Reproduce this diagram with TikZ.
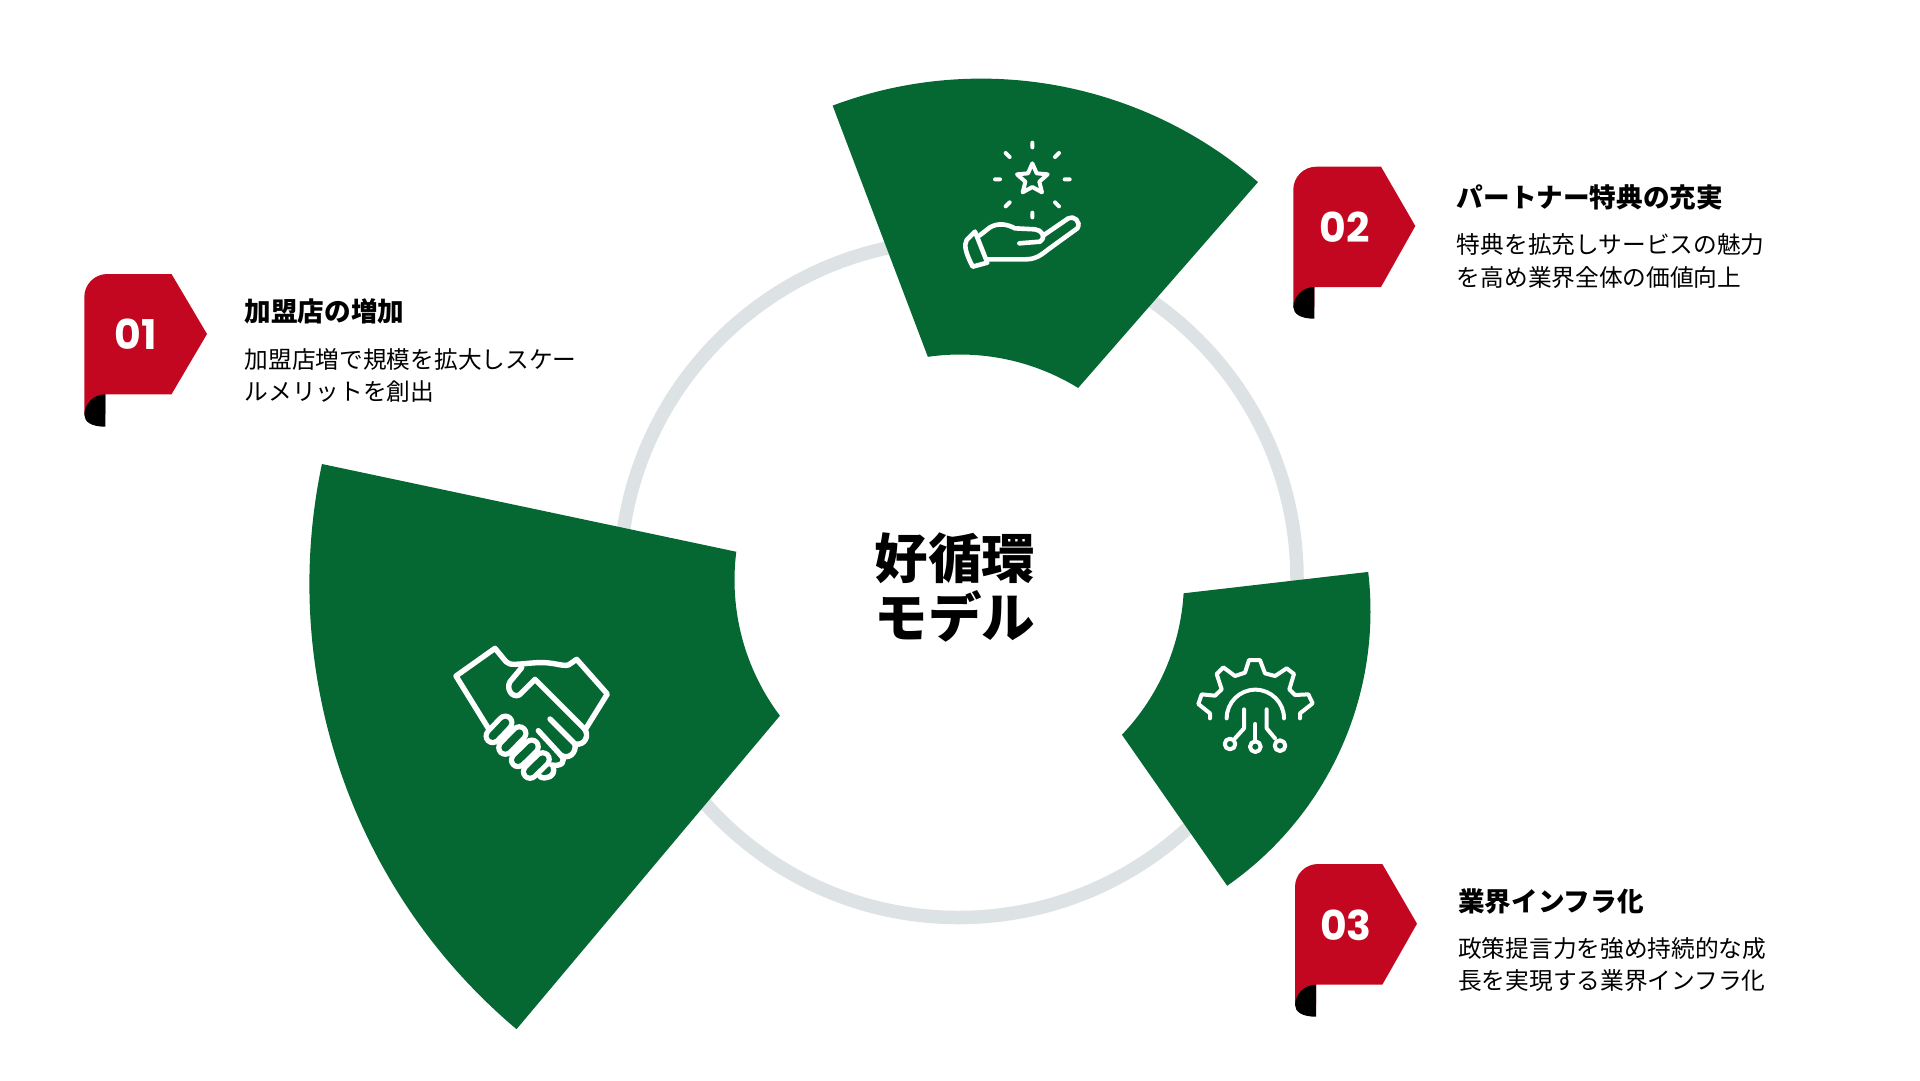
\documentclass[tikz,border=0pt]{standalone}
\usepackage{fontspec}
\usetikzlibrary{calc}
\newfontfamily\jp{Noto Sans CJK JP}
\newfontfamily\nump{Poppins}
\definecolor{leaf}{HTML}{056833}
\definecolor{flagred}{HTML}{C40720}
\definecolor{ringgrey}{HTML}{DDE3E5}
\tikzset{
  sector/.style={fill=leaf,draw=none},
  ringline/.style={draw=ringgrey,line width=13.5},
  flagbody/.style={fill=flagred,draw=none},
  flagcurl/.style={fill=black,draw=none},
  numlabel/.style={anchor=center,inner sep=0,text=white,font={\nump\bfseries\fontsize{41}{41}\selectfont}},
  titlelabel/.style={anchor=base west,inner sep=0,text=black,font={\jp\bfseries\fontsize{26.6}{26.6}\selectfont}},
  bodylabel/.style={anchor=base west,inner sep=0,text=black,font={\jp\fontsize{23.7}{23.7}\selectfont}},
  centerlabel/.style={anchor=base,inner sep=0,text=black,font={\jp\bfseries\fontsize{53.5}{53.5}\selectfont}},
  iconbold/.style={draw=white,line width=5.4,line cap=round,line join=round},
  iconline/.style={draw=white,line width=4.6,line cap=round,line join=round},
  iconthin/.style={draw=white,line width=4,line cap=round,line join=round},
  fingerouter/.style={draw=white,line width=18.4,line cap=round},
  fingerinner/.style={draw=leaf,line width=8,line cap=round},
  iconscope/.style={x=0.33333pt,y=-0.33333pt},
}
\newcommand{\flagshape}[8]{% left top rightx tipx tipy bottom stubx curlbottom
  \fill[flagbody] (#1,#2+23) arc[start angle=180,end angle=270,radius=23] -- (#3,#2) -- (#4,#5) -- (#3,#6) -- (#7,#6) -- (#7,#6+20) -- (#1,#6+20) -- cycle;
  \fill[flagcurl] (#7,#6) arc[start angle=270,end angle=180,radius=21] -- (#1,#8-12) .. controls (#1,#8-5) and (#1+7,#8) .. (#7,#8) -- cycle;
}
\newcommand{\fingerpair}[4]{%
  \draw[fingerouter] (#1,#2) -- (#3,#4);
  \draw[fingerinner] (#1,#2) -- (#3,#4);
}
\begin{document}
\begin{tikzpicture}[x=1pt,y=-1pt]
\useasboundingbox (0,0) rectangle (1920,1080);
\fill[white] (0,0) rectangle (1920,1080);
\coordinate (hub) at (958.5,579);
\coordinate (innerhub) at (960,580);
\coordinate (big) at (891.4,584);
\coordinate (top) at (981.1,500.6);
\coordinate (low) at (1035.5,611);
\draw[ringline] (hub) circle[radius=338.5];
\fill[sector] ($(big)+(130.1:582)$) arc[start angle=130.1,end angle=191.9,radius=582] -- ($(innerhub)+(187.2:225.5)$) arc[start angle=187.2,end angle=143,radius=225.5] -- cycle;
\fill[sector] ($(top)+(249.4:422)$) arc[start angle=249.4,end angle=311,radius=422] -- ($(innerhub)+(301.6:225.5)$) arc[start angle=301.6,end angle=261.8,radius=225.5] -- cycle;
\fill[sector] ($(low)+(-6.7:335)$) arc[start angle=-6.7,end angle=55.1,radius=335] -- ($(innerhub)+(43.7:224)$) arc[start angle=43.7,end angle=3.4,radius=224] -- cycle;

\flagshape{84.3}{274}{171.5}{207}{334}{394.3}{105.3}{426.7}
\flagshape{1293.3}{166.7}{1381}{1415.3}{226}{287}{1314.3}{318.7}
\flagshape{1295}{864}{1382.3}{1417}{923.7}{984.7}{1316}{1016.7}

\node[numlabel] (n1) at (135.5,334.7) {01};
\node[numlabel] (n2) at (1344.5,227) {02};
\node[numlabel] (n3) at (1346,925) {03};

\node[titlelabel] (t1) at (244.5,321.7) {加盟店の増加};
\node[bodylabel] (b1a) at (244.5,368) {加盟店増で規模を拡大しスケー};
\node[bodylabel] (b1b) at (244.5,400) {ルメリットを創出};
\node[titlelabel] (t2) at (1456.7,207.8) {パートナー特典の充実};
\node[bodylabel] (b2a) at (1456.7,253.2) {特典を拡充しサービスの魅力};
\node[bodylabel] (b2b) at (1456.7,286.2) {を高め業界全体の価値向上};
\node[titlelabel] (t3) at (1458,911.5) {業界インフラ化};
\node[bodylabel] (b3a) at (1458,957.2) {政策提言力を強め持続的な成};
\node[bodylabel] (b3b) at (1458,989.9) {長を実現する業界インフラ化};
\node[centerlabel] (c1) at (955,578) {好循環};
\node[centerlabel] (c2) at (955,637.5) {モデル};

% handshake icon
\begin{scope}[shift={(430,620)},iconscope]
\draw[iconbold] (175,325) -- (78,168) -- (195,85) -- (228,125) .. controls (240,138) and (260,132) .. (320,128) .. controls (370,125) and (395,140) .. (415,135) -- (440,118) -- (532,222) -- (468,325);
\draw[iconbold] (275,143) -- (240,185) .. controls (228,205) and (245,235) .. (268,225) -- (315,178) -- (462,325) .. controls (480,345) and (465,378) .. (435,372) -- (360,297);
\draw[iconbold] (435,372) .. controls (440,400) and (415,420) .. (392,405) -- (325,332);
\draw[iconbold] (392,405) .. controls (410,425) and (395,440) .. (365,435);
\draw[iconbold] (370,442) .. controls (378,470) and (345,480) .. (330,470);
\fingerpair{300}{455}{338}{418}
\fingerpair{264}{420}{305}{380}
\fingerpair{226}{383}{268}{340}
\fingerpair{188}{348}{226}{308}
\end{scope}

% star and hand icon
\begin{scope}[shift={(940,120)},iconscope]
\draw[iconthin] (277,68) -- (277,82) (197,99) -- (209,111) (357,99) -- (345,111) (165,178) -- (180,178) (374,178) -- (389,178) (197,259) -- (209,247) (357,259) -- (345,247) (277,278) -- (277,292);
\draw[iconthin] (277,130) -- (290,160) -- (323,163) -- (298,185) -- (306,217) -- (277,201) -- (248,217) -- (256,185) -- (231,163) -- (264,160) -- cycle;
\draw[iconline] (105,335) -- (80,360) .. controls (72,375) and (75,395) .. (98,440) -- (142,428) -- cycle;
\draw[iconline] (118,347) -- (150,322) .. controls (175,308) and (200,312) .. (225,325) -- (285,328) .. controls (305,330) and (320,350) .. (300,365) -- (238,370);
\draw[iconline] (312,345) -- (385,295) .. controls (400,285) and (425,305) .. (412,325) -- (325,388) .. controls (300,408) and (285,418) .. (255,418) -- (145,418);
\end{scope}

% gear icon
\begin{scope}[shift={(1180,650)},iconscope]
\draw[iconthin] (90,205) -- (90,190) -- (55,162) -- (65,133) -- (105,137) -- (125,118) -- (110,72) -- (130,52) -- (165,78) -- (195,68) -- (207,30) -- (240,30) -- (255,70) -- (285,78) -- (320,55) -- (342,72) -- (328,118) -- (345,135) -- (385,133) -- (398,160) -- (360,190) -- (360,205);
\draw[iconthin] (140,205) arc[start angle=180,end angle=360,radius=86];
\draw[iconthin] (192,178) -- (192,235) -- (165,265);
\draw[iconthin] (260,178) -- (260,235) -- (285,265);
\draw[iconthin] (226,222) -- (226,272);
\draw[iconthin] (150,282) circle[radius=16];
\draw[iconthin] (226,290) circle[radius=16];
\draw[iconthin] (300,287) circle[radius=16];
\end{scope}
\end{tikzpicture}
\end{document}
